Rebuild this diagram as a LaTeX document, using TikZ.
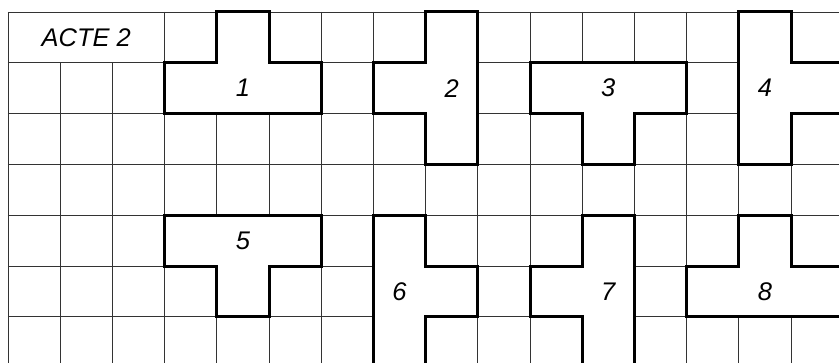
\documentclass[tikz,border=0pt]{standalone}
\usepackage{fontspec}
\setmainfont{Liberation Sans}
\begin{document}
\begin{tikzpicture}[x=52.2pt,y=-50.8pt,
  gridline/.style={draw=black!80,line width=0.8pt},
  piece/.style={draw=black,fill=white,line width=3pt,line join=miter},
  lab/.style={font=\itshape\fontsize{25.5}{25.5}\selectfont,inner sep=0pt}]
\useasboundingbox (-0.15326,-0.23622) rectangle (15.9195,6.9094);
\clip (-0.15326,-0.23622) rectangle (15.9195,6.9094);
\fill[white] (-0.15326,-0.23622) rectangle (15.9195,6.9094);
% grid
\foreach \r in {0,...,6} \draw[gridline] (0,\r) -- (16,\r);
\draw[gridline] (0,0) -- (0,7);
\foreach \c in {1,2} \draw[gridline] (\c,1) -- (\c,7);
\foreach \c in {3,...,15} \draw[gridline] (\c,0) -- (\c,7);
% pieces
\draw[piece] (3,1)--(4,1)--(4,0)--(5,0)--(5,1)--(6,1)--(6,2)--(3,2)--cycle;
\draw[piece] (8,0)--(9,0)--(9,3)--(8,3)--(8,2)--(7,2)--(7,1)--(8,1)--cycle;
\draw[piece] (10,1)--(13,1)--(13,2)--(12,2)--(12,3)--(11,3)--(11,2)--(10,2)--cycle;
\draw[piece] (14,0)--(15,0)--(15,1)--(16,1)--(16,2)--(15,2)--(15,3)--(14,3)--cycle;
\draw[piece] (3,4)--(6,4)--(6,5)--(5,5)--(5,6)--(4,6)--(4,5)--(3,5)--cycle;
\draw[piece] (7,4)--(8,4)--(8,5)--(9,5)--(9,6)--(8,6)--(8,7.5)--(7,7.5)--cycle;
\draw[piece] (11,4)--(12,4)--(12,7.5)--(11,7.5)--(11,6)--(10,6)--(10,5)--(11,5)--cycle;
\draw[piece] (13,5)--(14,5)--(14,4)--(15,4)--(15,5)--(16.5,5)--(16.5,6)--(13,6)--cycle;
% labels
\node[lab] (title) at (1.5,0.5) {ACTE 2};
\node[lab] (n1) at (4.5,1.5) {1};
\node[lab] (n2) at (8.5,1.5) {2};
\node[lab] (n3) at (11.5,1.5) {3};
\node[lab] (n4) at (14.5,1.5) {4};
\node[lab] (n5) at (4.5,4.5) {5};
\node[lab] (n6) at (7.5,5.5) {6};
\node[lab] (n7) at (11.5,5.5) {7};
\node[lab] (n8) at (14.5,5.5) {8};
\end{tikzpicture}
\end{document}
